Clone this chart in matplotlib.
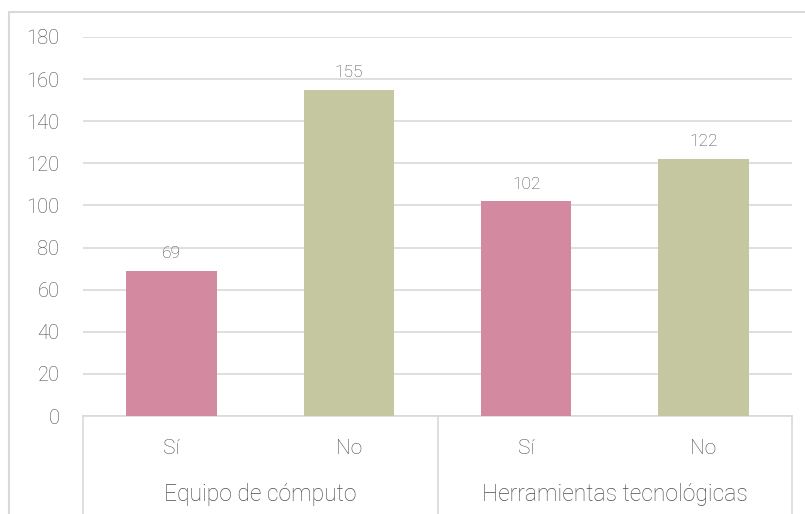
import matplotlib.pyplot as plt
from matplotlib.patches import Rectangle

# data
groups = ['Equipo de cómputo', 'Herramientas tecnológicas']
answers = ['Sí', 'No', 'Sí', 'No']
values = [69, 155, 102, 122]
colors = ['#D38AA0', '#C4C7A0', '#D38AA0', '#C4C7A0']
yticks = [0, 20, 40, 60, 80, 100, 120, 140, 160, 180]

plt.rcParams['font.family'] = ['Roboto', 'DejaVu Sans']
plt.rcParams['font.weight'] = 'light'
txt = '#4D4D4D'
line = '#D9D9D9'

fig = plt.figure(figsize=(8.05, 5.14), dpi=100)
fig.patches.append(Rectangle((9 / 805, -0.1), 1.2, 1 - 12 / 514 + 0.1,
                             transform=fig.transFigure, fill=False,
                             edgecolor=line, lw=1.5))
ax = fig.add_axes([83 / 805, 1 - 416 / 514, (792 - 83) / 805, (416 - 37) / 514])

x = list(range(len(values)))
bars = ax.bar(x, values, width=0.51, color=colors, zorder=3)
for b, v in zip(bars, values):
    ax.annotate(str(v), (b.get_x() + b.get_width() / 2, v), xytext=(0, 7),
                textcoords='offset points', ha='center', va='bottom',
                fontsize=12.5, color=txt)

ax.set_xlim(-0.5, 3.5)
ax.set_ylim(0, 180)
ax.set_yticks(yticks)
ax.tick_params(axis='y', length=0, pad=17, labelsize=14.5, labelcolor=txt)
ax.set_xticks([])
ax.grid(axis='y', color=line, lw=1.2, zorder=0)
for s in ax.spines.values():
    s.set_visible(False)

# two-level category axis
depth = -0.3
ax.plot([0, 1], [0, 0], transform=ax.transAxes, color=line, lw=1.2, clip_on=False)
for xv in [0, 0.5, 1]:
    ax.plot([xv, xv], [0, depth], transform=ax.transAxes, color=line, lw=1.2,
            clip_on=False)
for i, a in enumerate(answers):
    ax.text((i + 0.5) / 4, -0.087, a, transform=ax.transAxes, ha='center',
            va='center', fontsize=15, color=txt)
for j, g in enumerate(groups):
    ax.text((j + 0.5) / 2, -0.206, g, transform=ax.transAxes, ha='center',
            va='center', fontsize=16.5, color=txt)

fig.savefig('out.png', dpi=100)
